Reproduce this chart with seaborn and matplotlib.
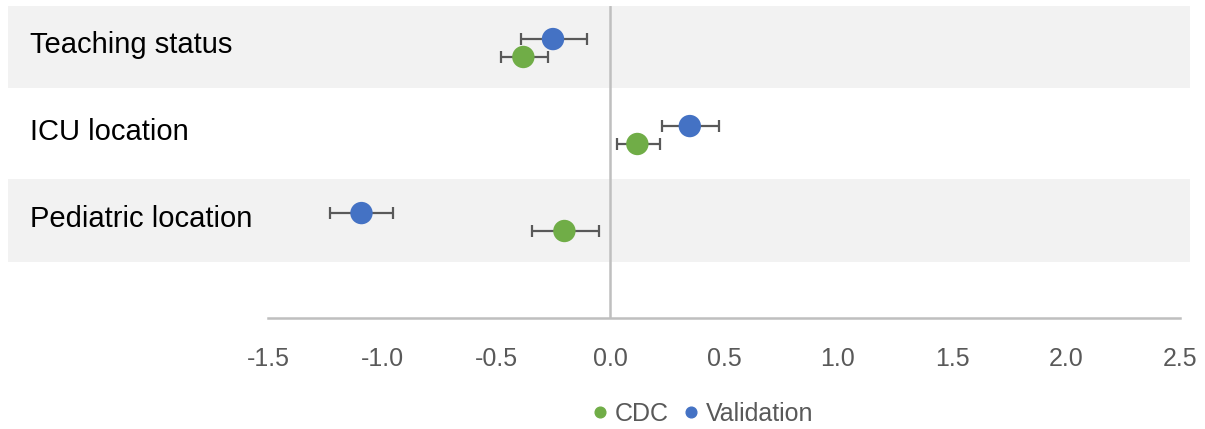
import numpy as np
import pandas as pd
import matplotlib.pyplot as plt
import seaborn as sns
from matplotlib.lines import Line2D

# Datos
categories = ['Teaching status', 'ICU location', 'Pediatric location']
validation_est = [-0.25, 0.35, -1.09]
validation_lo = [-0.39, 0.23, -1.23]
validation_hi = [-0.10, 0.48, -0.95]
cdc_est = [-0.38, 0.12, -0.20]
cdc_lo = [-0.48, 0.03, -0.34]
cdc_hi = [-0.27, 0.22, -0.05]
xticks = [-1.5, -1.0, -0.5, 0.0, 0.5, 1.0, 1.5, 2.0, 2.5]

sns.set_style("white")
plt.rcParams['font.family'] = ['Liberation Sans', 'DejaVu Sans']

palette = {'CDC': '#70AD47', 'Validation': '#4472C4'}
offsets = {'Validation': -0.103, 'CDC': 0.103}

rows = []
for i, cat in enumerate(categories):
    rows.append(dict(cat=cat, serie='Validation', est=validation_est[i],
                     lo=validation_lo[i], hi=validation_hi[i], y=i + offsets['Validation']))
    rows.append(dict(cat=cat, serie='CDC', est=cdc_est[i],
                     lo=cdc_lo[i], hi=cdc_hi[i], y=i + offsets['CDC']))
df = pd.DataFrame(rows)

W, H = 1205, 429
fig = plt.figure(figsize=(W / 100, H / 100), dpi=100)
ax = fig.add_axes([8 / W, (H - 318) / H, 1182 / W, (318 - 6) / H])

# Bandas grises alternas
for i in range(len(categories)):
    if i % 2 == 0:
        ax.axhspan(i - 0.49, i + 0.455, color='#f2f2f2', zorder=0, lw=0)

ax.axvline(0, color='#bfbfbf', lw=1.8, zorder=1)

# Barras de error
for _, r in df.iterrows():
    ax.errorbar(r['est'], r['y'], xerr=[[r['est'] - r['lo']], [r['hi'] - r['est']]],
                fmt='none', ecolor='#595959', elinewidth=1.6, capsize=4.5,
                capthick=1.6, zorder=2)

sns.scatterplot(data=df, x='est', y='y', hue='serie', hue_order=['CDC', 'Validation'],
                palette=palette, s=260, edgecolor='none', ax=ax, zorder=3, legend=False)

ax.set_xlim((8 - 610) / 228, (1190 - 610) / 228)
ax.set_ylim(3.103, -0.483)
ax.set_xticks(xticks)
ax.set_xticklabels([f'{v:.1f}' for v in xticks], fontsize=18, color='#595959')
ax.tick_params(axis='x', length=0, pad=21)
ax.set_yticks([])
ax.set_xlabel('')
ax.set_ylabel('')

for s in ['top', 'right', 'left']:
    ax.spines[s].set_visible(False)
ax.spines['bottom'].set_bounds(-1.5, 2.5)
ax.spines['bottom'].set_color('#bfbfbf')
ax.spines['bottom'].set_linewidth(1.8)

for i, cat in enumerate(categories):
    ax.text(22 / 1182, i - 0.03, cat, transform=ax.get_yaxis_transform(),
            ha='left', va='center', fontsize=21, color='black')

handles = [Line2D([], [], marker='o', ls='none', color=palette[k], markersize=7.7)
           for k in ['CDC', 'Validation']]
fig.legend(handles, ['CDC', 'Validation'], loc='center', ncol=2,
           bbox_to_anchor=(703 / W, 1 - 414 / H), frameon=False, fontsize=18,
           handlelength=0.6, handletextpad=0.3, columnspacing=0.6,
           labelcolor='#595959')

fig.savefig('out.png', dpi=100)
